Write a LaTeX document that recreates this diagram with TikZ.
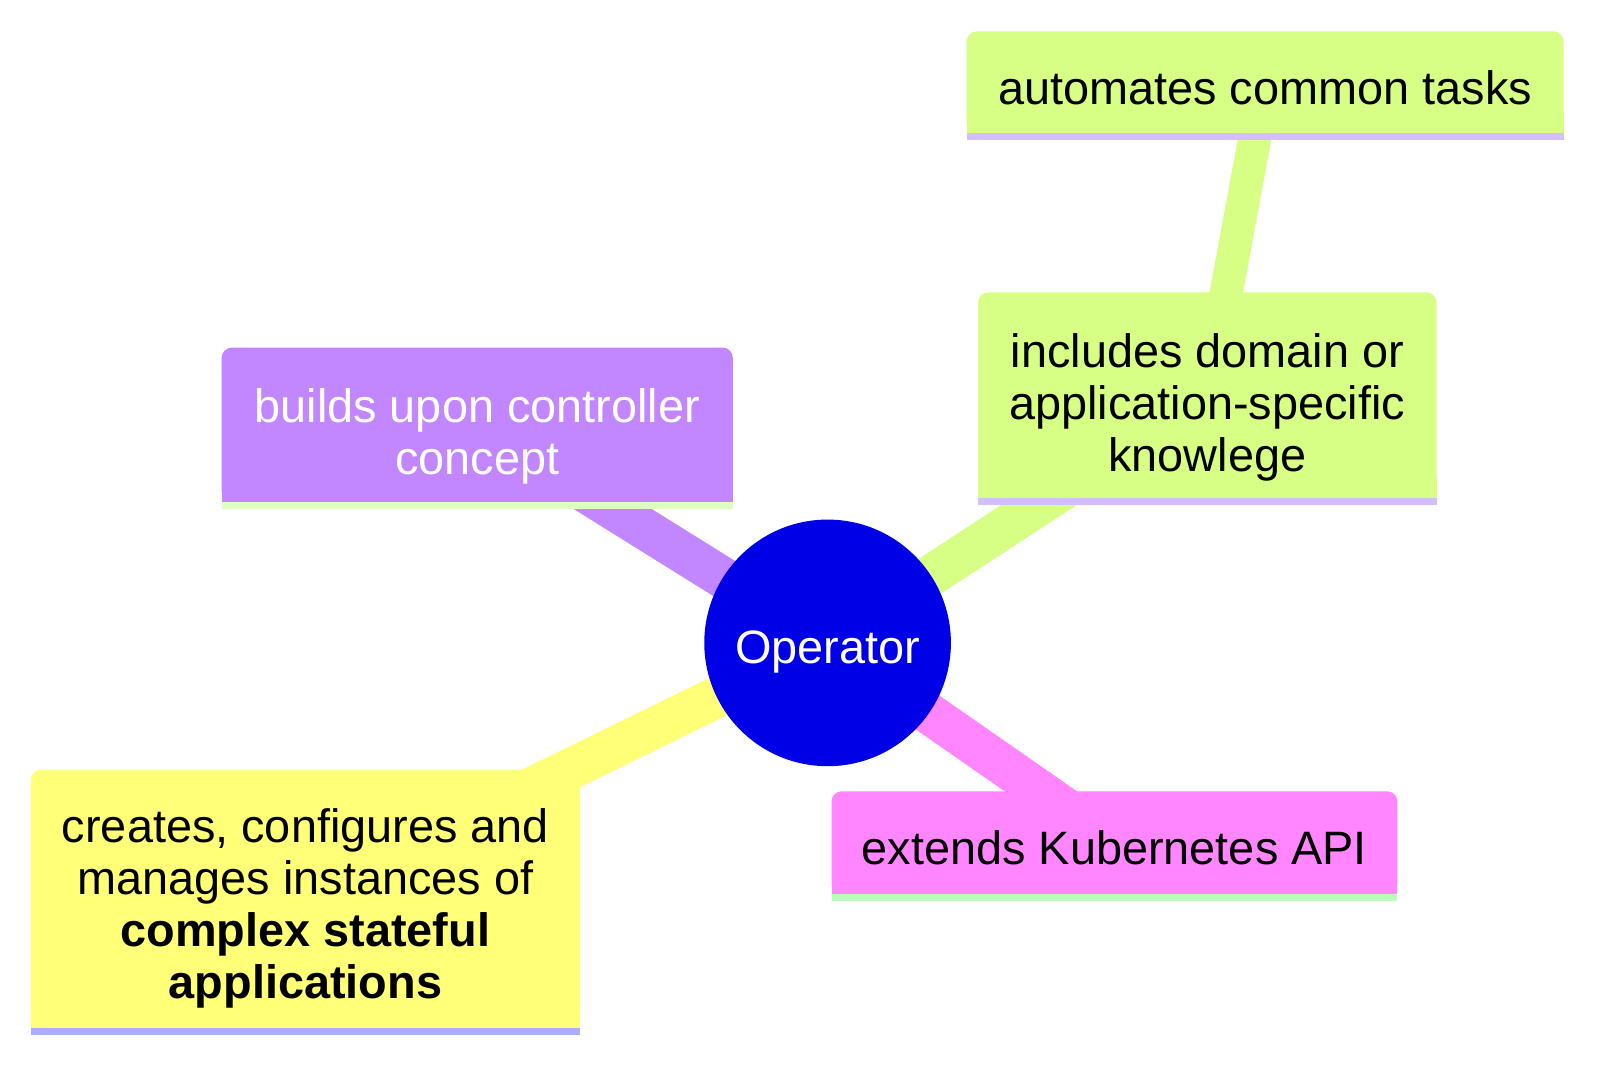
\documentclass[tikz,border=0pt]{standalone}
\usepackage{fontspec}
\setmainfont{Liberation Sans}
\usetikzlibrary{calc}
\pgfdeclarelayer{bg}
\pgfdeclarelayer{edges}
\pgfdeclarelayer{boxes}
\pgfsetlayers{bg,edges,boxes,main}
\definecolor{rootblue}{HTML}{0000E6}
\definecolor{secyellow}{HTML}{FFFF78}
\definecolor{secgreen}{HTML}{D7FF86}
\definecolor{secpurple}{HTML}{C286FF}
\definecolor{secpink}{HTML}{FF86FF}
\definecolor{lineyellow}{HTML}{ADADFF}
\definecolor{linegreen}{HTML}{D3BFFF}
\definecolor{linepurple}{HTML}{DCFFC2}
\definecolor{linepink}{HTML}{BAFFBA}
\newcommand\mmbox[3]{%
  \begin{pgfonlayer}{boxes}
    \fill[#2, rounded corners=10pt] (#1.north west) rectangle (#1.south east);
    \fill[#2] ($(#1.south west)+(0,-20)$) rectangle (#1.south east);
    \fill[#3] (#1.south west) rectangle ($(#1.south east)+(0,7)$);
  \end{pgfonlayer}}
\begin{document}
\begin{tikzpicture}[x=1pt,y=-1pt,
  txt/.style={font=\fontsize{45.4}{50.5}\selectfont, align=center, inner sep=0pt},
  boxnode/.style={inner sep=0pt},
  edge0/.style={line width=40pt},
  edge1/.style={line width=32pt}]
\useasboundingbox (0,0) rectangle (1567,1044.67);
\begin{pgfonlayer}{bg}
\fill[white] (0,0) rectangle (1567,1044.67);
\end{pgfonlayer}

% root
\node[circle, fill=rootblue, minimum size=239pt, inner sep=0pt] (root) at (802,623) {};
\node[txt, text=white, text depth=0pt] (roott) at ([yshift=-4pt]root.center) {Operator};

% boxes
\node[boxnode, minimum width=495pt, minimum height=149pt] (build) at (462.5,411.5) {};
\node[boxnode, minimum width=444pt, minimum height=199pt] (incl) at (1170,383) {};
\node[boxnode, minimum width=578pt, minimum height=98pt] (auto) at (1226,79.5) {};
\node[boxnode, minimum width=548pt, minimum height=99pt] (ext) at (1080,816.5) {};
\node[boxnode, minimum width=532pt, minimum height=250pt] (cre) at (296,871) {};

% texts
\node[txt, text=white] (buildt) at ([yshift=-11pt]build.center) {builds upon controller\\concept};
\node[txt] (inclt) at ([yshift=-12pt]incl.center) {includes domain or\\application-specific\\knowlege};
\node[txt] (autot) at ([yshift=-6pt]auto.center) {automates common tasks};
\node[txt] (extt) at ([yshift=-5pt]ext.center) {extends Kubernetes API};
\node[txt] (cret) at ([yshift=-9pt]cre.center) {creates, configures and\\manages instances of\\\textbf{complex stateful}\\\textbf{applications}};

\mmbox{build}{secpurple}{linepurple}
\mmbox{incl}{secgreen}{linegreen}
\mmbox{auto}{secgreen}{linegreen}
\mmbox{ext}{secpink}{linepink}
\mmbox{cre}{secyellow}{lineyellow}

\begin{pgfonlayer}{edges}
  \draw[edge0, secpurple] (root.center) -- (build.center);
  \draw[edge0, secgreen] (root.center) -- (incl.center);
  \draw[edge1, secgreen] (incl.center) -- (auto.center);
  \draw[edge0, secpink] (root.center) -- (ext.center);
  \draw[edge0, secyellow] (root.center) -- (cre.center);
\end{pgfonlayer}
\end{tikzpicture}
\end{document}
